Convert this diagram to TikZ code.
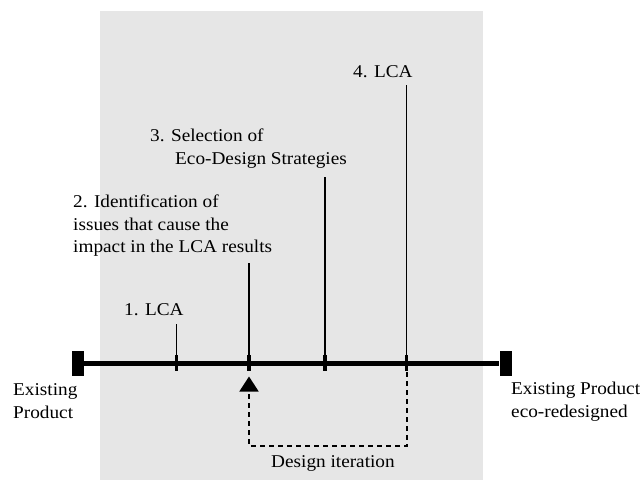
\documentclass[tikz,border=0pt]{standalone}
\usepackage{fontspec}
\usepackage{tikz}
\usetikzlibrary{arrows.meta}
\setmainfont[FakeStretch=1.07]{Liberation Serif}
\definecolor{panelGrey}{RGB}{230,230,230}
\newcommand{\labelFont}[0]{\fontsize{18}{22.7}\selectfont}
\newcommand{\axisY}[0]{363}

\begin{document}
\begin{tikzpicture}[x=1pt, y=-1pt]
  \tikzset{
    step label/.style={font=\labelFont, inner sep=0pt, anchor=base west, align=left},
    lead/.style={line width=1.1pt},
    tick/.style={line width=3.5pt},
    iteration/.style={line width=1.8pt, dash pattern=on 5pt off 4pt,
      -{Triangle[width=19pt,length=15pt]}}
  }
  \useasboundingbox (0,0) rectangle (642,480);
  \fill[panelGrey] (100,11) rectangle (483,480);

  % time line with its two end blocks
  \node[fill=black, minimum width=12pt, minimum height=25pt, inner sep=0pt] (start) at (78,\axisY) {};
  \node[fill=black, minimum width=12pt, minimum height=25pt, inner sep=0pt] (end) at (505.5,\axisY) {};
  \draw[line width=5pt] (start) -- (end);

  \coordinate (T-1) at (176.7,\axisY);
  \coordinate (T-2) at (249,\axisY);
  \coordinate (T-3) at (325,\axisY);
  \coordinate (T-4) at (406.7,\axisY);
  \foreach \t in {1,...,4}
    \draw[tick] ([yshift=-7.5pt]T-\t) -- ([yshift=8pt]T-\t);

  % base anchor of a multi-line label sits on its last line
  \node[step label] (LCA-1) at (124,315) {1. LCA};
  \node[step label] (ID-2) at (73,252.7) {2. Identification of\\issues that cause the\\impact in the LCA results};
  \node[step label] (SEL-3) at (150,164) {3. Selection of\\\hspace*{25pt}Eco-Design Strategies};
  \node[step label] (LCA-4) at (353,77) {4. LCA};

  \coordinate (top-1) at (176.7,324);
  \coordinate (top-2) at (249,263);
  \coordinate (top-3) at (325,177);
  \coordinate (top-4) at (406.7,85);
  \foreach \t in {1,...,4}
    \draw[lead] (top-\t) -- (T-\t);

  \node[step label] (before) at (13,418) {Existing\\Product};
  \node[step label] (after) at (511,417) {Existing Product\\eco-redesigned};

  % loop back from the second LCA
  \coordinate (turn) at (249,446);
  \coordinate (tip) at (249,376.5);
  \draw[iteration] (T-4) |- (turn) -- (tip);
  \node[step label] (loop) at (271,467) {Design iteration};
\end{tikzpicture}
\end{document}
